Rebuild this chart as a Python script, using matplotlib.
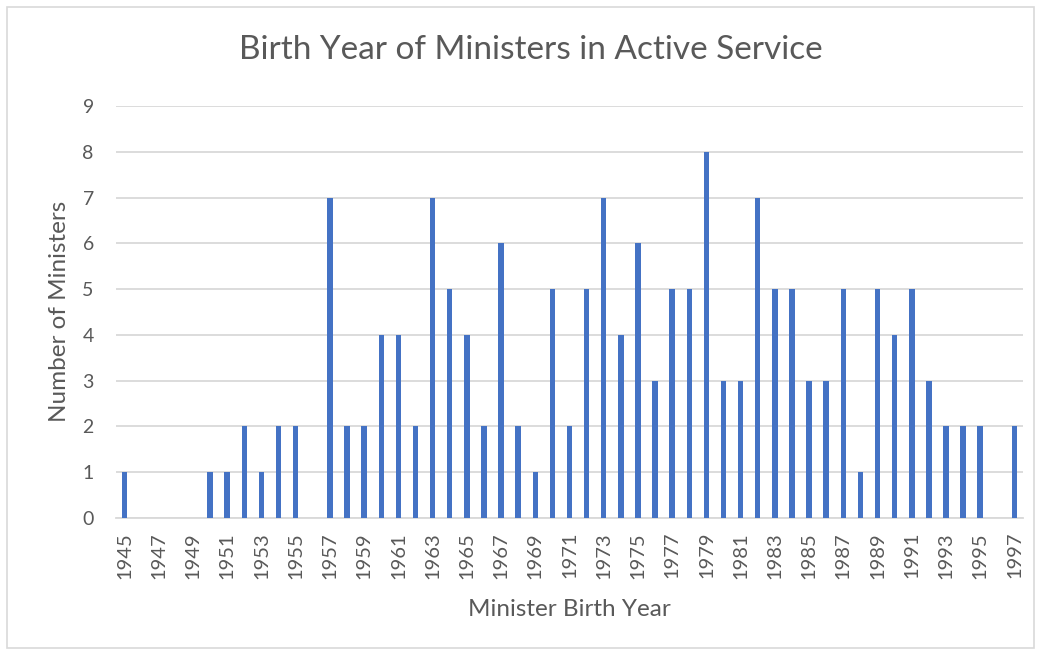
import matplotlib
matplotlib.use("Agg")
import matplotlib.pyplot as plt
from matplotlib.patches import Rectangle

years = list(range(1945, 1998))
counts = [1, 0, 0, 0, 0, 1, 1, 2, 1, 2, 2, 0, 7, 2, 2, 4, 4, 2, 7, 5,
          4, 2, 6, 2, 1, 5, 2, 5, 7, 4, 6, 3, 5, 5, 8, 3, 3, 7, 5, 5,
          3, 3, 5, 1, 5, 4, 5, 3, 2, 2, 2, 0, 2]
yticks = list(range(0, 10))

title = "Birth Year of Ministers in Active Service"
xlabel = "Minister Birth Year"
ylabel = "Number of Ministers"

plt.rcParams['font.family'] = ['Lato', 'DejaVu Sans']
text_col = '#595959'
bar_col = '#4472C4'
grid_col = '#D9D9D9'

fig = plt.figure(figsize=(10.41, 6.54), dpi=100)
W, H = 1041, 654
ax = fig.add_axes([116 / W, 1 - 518 / H, (1023 - 116) / W, (518 - 106) / H])

x = list(range(len(years)))
ax.bar(x, counts, width=0.32, color=bar_col, zorder=3)

ax.set_xlim(-0.5, len(years) - 0.5)
ax.set_ylim(0, 9)
ax.set_yticks(yticks)
ax.set_yticklabels([str(v) for v in yticks])
ax.set_xticks(x[::2])
ax.set_xticklabels([str(y) for y in years[::2]], rotation=90)
ax.tick_params(axis='both', length=0, colors=text_col)
ax.tick_params(axis='y', pad=16, labelsize=14)
ax.tick_params(axis='x', pad=10, labelsize=14.5)
ax.yaxis.grid(True, color=grid_col, linewidth=1.3, zorder=0)
for s in ['top', 'right', 'left']:
    ax.spines[s].set_visible(False)
ax.spines['bottom'].set_color(grid_col)
ax.spines['bottom'].set_linewidth(1.3)

fig.text(531 / W, 1 - 50 / H, title, ha='center', va='center', fontsize=24, color=text_col)
fig.text(569 / W, 1 - 609 / H, xlabel, ha='center', va='center', fontsize=17.5, color=text_col)
fig.text(60 / W, 1 - 311 / H, ylabel, ha='center', va='center', rotation=90, fontsize=17.5, color=text_col)

fig.patches.append(Rectangle((7 / W, 1 - 648 / H), (1034 - 7) / W, (648 - 7) / H,
                             transform=fig.transFigure, fill=False,
                             edgecolor='#D9D9D9', linewidth=1.2))

fig.savefig("out.png", dpi=100, facecolor='white')
